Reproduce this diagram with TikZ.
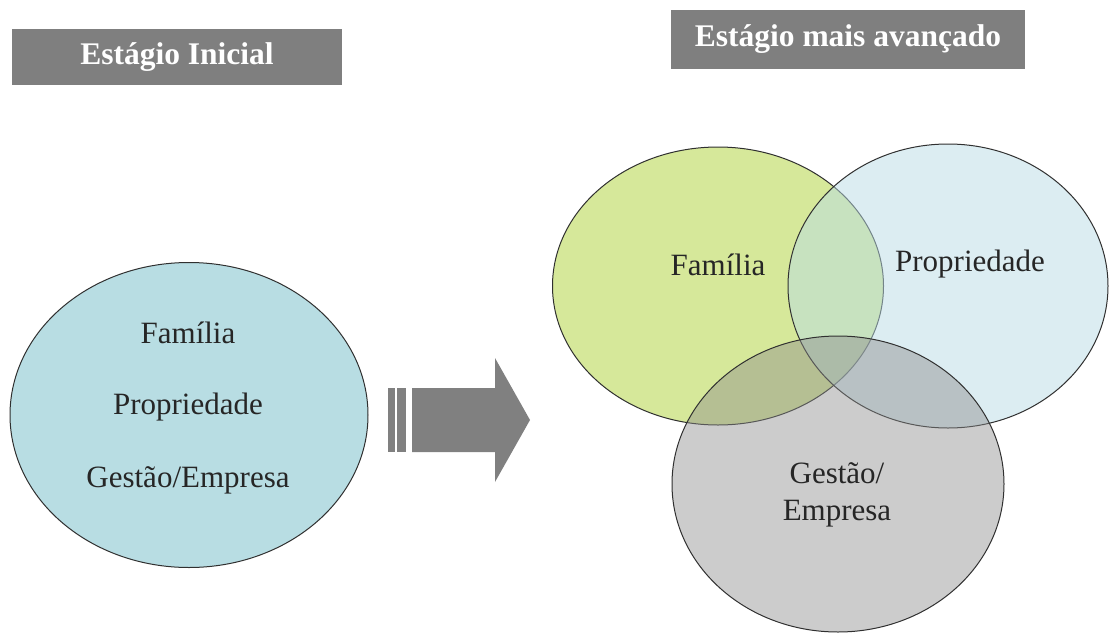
\documentclass[tikz,border=0pt]{standalone}
\usepackage{fontspec}
\setmainfont{Liberation Serif}
\usetikzlibrary{shapes.geometric}
\definecolor{banner}{HTML}{7F7F7F}
\definecolor{arrowgray}{HTML}{808080}
\definecolor{edge}{HTML}{303030}
\definecolor{singlefill}{HTML}{B8DDE3}
\definecolor{famfill}{HTML}{D6E89A}
\definecolor{propfill}{RGB}{185,220,230}
\definecolor{gestfill}{RGB}{139,139,139}
\tikzset{
  banner/.style={fill=banner, draw=none, font=\fontsize{31.5}{34}\selectfont\bfseries, text=white, inner sep=0pt},
  blob/.style={ellipse, draw=edge, line width=1pt, inner sep=0pt},
  lbl/.style={font=\fontsize{31}{37}\selectfont, text=black!85, inner sep=0pt},
  bigarrow/.style={fill=arrowgray, draw=none}
}
\begin{document}
\begin{tikzpicture}[x=1pt,y=-1pt]
\useasboundingbox (0,0) rectangle (1112,635);
\fill[white] (0,0) rectangle (1112,635);

% stage banners
\node[banner, minimum width=330pt, minimum height=56pt] (tl) at (177,57) {Estágio Inicial};
\node[banner, minimum width=354pt, minimum height=59pt] (tr) at (848,39.5) {Estágio mais avançado};

% initial stage: one undivided ellipse
\node[blob, fill=singlefill, minimum width=358pt, minimum height=305pt] (single) at (189,415) {};
\node[lbl] (s1) at (188,333) {Família};
\node[lbl] (s2) at (188,407) {Propriedade};
\node[lbl] (s3) at (188,480) {Gestão/Empresa};

% transition arrow with two bars
\fill[bigarrow] (388,388) rectangle (395,452);
\fill[bigarrow] (397,388) rectangle (406,452);
\fill[bigarrow] (412,388) -- (495,388) -- (495,358) -- (530,420) -- (495,482) -- (495,452) -- (412,452) -- cycle;

% advanced stage: three overlapping circles
\node[blob, fill=famfill, minimum width=331pt, minimum height=278pt] (fam) at (718,286) {};
\node[blob, fill=propfill, fill opacity=0.49, minimum width=320pt, minimum height=284pt] (prop) at (948,286) {};
\node[blob, fill=gestfill, fill opacity=0.44, minimum width=332pt, minimum height=296pt] (gest) at (838,484) {};

\node[lbl] (f) at (718,265) {Família};
\node[lbl] (p) at (970,264) {Propriedade};
\node[lbl, align=center] (g) at (837,495) {Gestão/\\Empresa};
\end{tikzpicture}
\end{document}
